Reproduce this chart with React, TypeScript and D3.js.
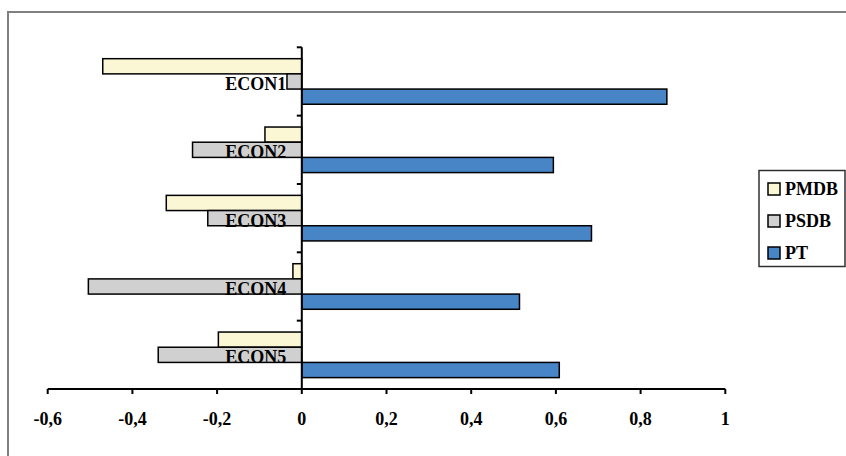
import React from "react";
import * as d3 from "d3";

const categories = ["ECON1", "ECON2", "ECON3", "ECON4", "ECON5"];
const seriesNames = ["PMDB", "PSDB", "PT"];
const pmdbValues = [-0.47, -0.087, -0.32, -0.021, -0.197];
const psdbValues = [-0.035, -0.258, -0.222, -0.504, -0.339];
const ptValues = [0.862, 0.594, 0.684, 0.514, 0.608];
const xTicks = [-0.6, -0.4, -0.2, 0, 0.2, 0.4, 0.6, 0.8, 1];
const seriesColors = ["#FBF6D3", "#D0D0D0", "#4785C6"];

const W = 846;
const H = 456;
const FONT = "'Liberation Serif', 'Times New Roman', serif";

export default function App() {
  const seriesValues = [pmdbValues, psdbValues, ptValues];

  const x = d3.scaleLinear().domain([-0.6, 1]).range([47.7, 725.3]);
  const y = d3.scaleBand<string>().domain(categories).range([47.3, 389]).padding(0);
  const inner = d3
    .scaleBand<string>()
    .domain(seriesNames)
    .range([0, y.bandwidth()])
    .paddingInner(0)
    .paddingOuter(0.75);

  const fmt = (v: number) => (v === 0 ? "0" : String(v).replace(".", ","));
  const x0 = x(0);
  const axisY = 389;
  const catTicks = [...categories.map((c) => y(c) as number), axisY];

  return (
    <svg
      width={W}
      height={H}
      style={{ position: "absolute", left: 0, top: 0, display: "block" }}
      fontFamily={FONT}
    >
      <rect x={0} y={0} width={W} height={H} fill="#fff" />
      {/* chart area frame */}
      <rect x={8} y={12} width={850} height={460} fill="none" stroke="#808080" strokeWidth={2} />

      {/* bars */}
      {categories.map((c, ci) =>
        seriesNames.map((s, si) => {
          const v = seriesValues[si][ci];
          const by = (y(c) as number) + (inner(s) as number);
          return (
            <rect
              key={c + s}
              x={Math.min(x(v), x0)}
              y={by}
              width={Math.abs(x(v) - x0)}
              height={inner.bandwidth()}
              fill={seriesColors[si]}
              stroke="#000"
              strokeWidth={1.5}
            />
          );
        })
      )}

      {/* x axis */}
      <line x1={x(-0.6)} x2={x(1)} y1={axisY} y2={axisY} stroke="#000" strokeWidth={2} />
      {xTicks.map((t) => (
        <g key={t}>
          <line x1={x(t)} x2={x(t)} y1={axisY} y2={axisY + 5} stroke="#000" strokeWidth={2} />
          <text
            x={x(t)}
            y={axisY + 36}
            textAnchor="middle"
            fontSize={18}
            fontWeight="bold"
            fill="#000"
          >
            {fmt(t)}
          </text>
        </g>
      ))}

      {/* category axis */}
      <line x1={x0} x2={x0} y1={47.3} y2={axisY} stroke="#000" strokeWidth={2} />
      {catTicks.map((ty, i) => (
        <line key={i} x1={x0 - 5} x2={x0} y1={ty} y2={ty} stroke="#000" strokeWidth={2} />
      ))}
      {categories.map((c) => (
        <text
          key={c}
          x={x0 - 15.5}
          y={(y(c) as number) + y.bandwidth() / 2 + 8.5}
          textAnchor="end"
          fontSize={18}
          fontWeight="bold"
          fill="#000"
        >
          {c}
        </text>
      ))}

      {/* legend */}
      <rect x={759} y={170.5} width={86} height={96} fill="#fff" stroke="#303030" strokeWidth={1.5} />
      {seriesNames.map((s, i) => (
        <g key={s}>
          <rect
            x={768}
            y={183 + i * 32}
            width={12}
            height={12}
            fill={seriesColors[i]}
            stroke="#000"
            strokeWidth={1.5}
          />
          <text x={785} y={195 + i * 32} fontSize={18} fontWeight="bold" fill="#000">
            {s}
          </text>
        </g>
      ))}
    </svg>
  );
}
